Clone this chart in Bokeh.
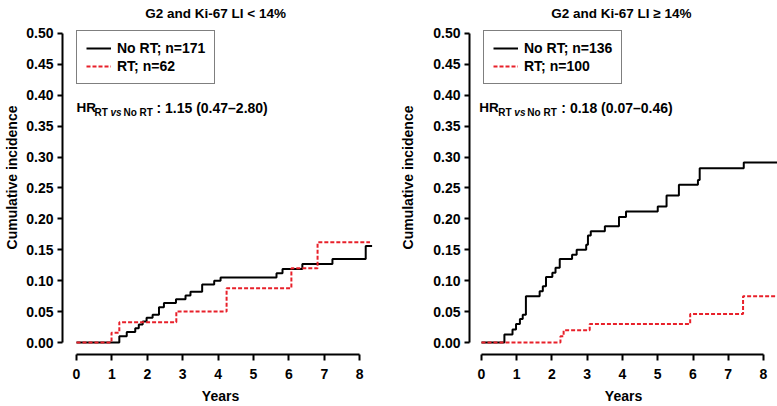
from bokeh.plotting import figure
from bokeh.layouts import row
from bokeh.models import FixedTicker, Legend, LegendItem, NumeralTickFormatter
from bokeh.core.properties import value
from bokeh.embed import file_html
from bokeh.resources import INLINE

# ---------------- data ----------------
x_ticks = [0, 1, 2, 3, 4, 5, 6, 7, 8]
x_tick_labels = ["0", "1", "2", "3", "4", "5", "6", "7", "8"]
y_ticks = [0.0, 0.05, 0.1, 0.15, 0.2, 0.25, 0.3, 0.35, 0.4, 0.45, 0.5]
y_tick_labels = ["0.00", "0.05", "0.10", "0.15", "0.20", "0.25", "0.30", "0.35", "0.40", "0.45", "0.50"]

# Left panel: G2 and Ki-67 LI < 14%
left_title = "G2 and Ki-67 LI < 14%"
left_norts_t = [0, 1.21, 1.42, 1.66, 1.76, 1.87, 1.98, 2.15, 2.33, 2.47, 2.81, 3.08, 3.22, 3.55, 3.89, 4.07, 5.65, 5.82, 6.38, 7.23, 8.17, 8.35]
left_norts_v = [0, 0.010, 0.017, 0.023, 0.029, 0.034, 0.040, 0.045, 0.057, 0.064, 0.070, 0.076, 0.082, 0.094, 0.100, 0.105, 0.112, 0.119, 0.127, 0.135, 0.156, 0.156]
left_rt_t = [0, 0.99, 1.21, 2.82, 4.24, 6.07, 6.81, 8.29]
left_rt_v = [0, 0.016, 0.033, 0.050, 0.088, 0.120, 0.162, 0.162]
left_labels = ["No RT; n=171", "RT; n=62"]
left_hr = ": 1.15 (0.47\u20132.80)"

# Right panel: G2 and Ki-67 LI >= 14%
right_title = "G2 and Ki-67 LI \u2265 14%"
right_norts_t = [0, 0.65, 0.88, 0.98, 1.09, 1.17, 1.26, 1.65, 1.74, 1.83, 2.01, 2.10, 2.22, 2.57, 2.70, 2.97, 3.02, 3.10, 3.50, 3.90, 4.10, 5.00, 5.25, 5.60, 6.14, 6.19, 7.44, 8.6]
right_norts_v = [0, 0.013, 0.021, 0.030, 0.038, 0.045, 0.075, 0.083, 0.091, 0.106, 0.113, 0.121, 0.135, 0.142, 0.150, 0.158, 0.173, 0.180, 0.188, 0.203, 0.212, 0.220, 0.238, 0.255, 0.263, 0.282, 0.291, 0.291]
right_rt_t = [0, 2.24, 2.33, 3.07, 5.92, 7.42, 8.6]
right_rt_v = [0, 0.010, 0.020, 0.030, 0.046, 0.075, 0.075]
right_labels = ["No RT; n=136", "RT; n=100"]
right_hr = ": 0.18 (0.07\u20130.46)"

y_label = "Cumulative incidence"
x_label = "Years"

# ---------------- style ----------------
FONT = "Liberation Sans"
RED = "#e8202a"
FS = "14px"


def panel(width, border_left, border_right, x_range, ylab_standoff, title, title_x,
          t_a, v_a, t_b, v_b, labels, hr_x, hr_rest, sub_off, rest_off):
    p = figure(width=width, height=406, x_range=x_range, y_range=(-0.01935, 0.5532),
               output_backend="svg", toolbar_location=None,
               min_border_left=border_left, min_border_right=border_right,
               min_border_top=0, min_border_bottom=51)
    p.grid.visible = False
    p.outline_line_color = None
    p.background_fill_color = "white"
    p.border_fill_color = "white"

    for ax in (p.xaxis[0], p.yaxis[0]):
        ax.axis_line_width = 2
        ax.axis_line_color = "black"
        ax.major_tick_line_width = 2
        ax.major_tick_line_color = "black"
        ax.minor_tick_line_color = None
        ax.major_tick_in = 0
        ax.major_label_text_font = FONT
        ax.major_label_text_font_style = "bold"
        ax.major_label_text_font_size = FS
        ax.major_label_text_color = "black"
        ax.axis_label_text_font = FONT
        ax.axis_label_text_font_style = "bold"
        ax.axis_label_text_font_size = FS
        ax.axis_label_text_color = "black"

    xa = p.xaxis[0]
    xa.bounds = (x_ticks[0], x_ticks[-1])
    xa.ticker = FixedTicker(ticks=x_ticks)
    xa.major_label_overrides = {t: l for t, l in zip(x_ticks, x_tick_labels)}
    xa.major_tick_out = 6
    xa.major_label_standoff = 8
    xa.axis_label = x_label
    xa.axis_label_standoff = 6

    ya = p.yaxis[0]
    ya.bounds = (y_ticks[0], y_ticks[-1])
    ya.ticker = FixedTicker(ticks=y_ticks)
    ya.formatter = NumeralTickFormatter(format="0.00")
    ya.major_label_overrides = {t: l for t, l in zip(y_ticks, y_tick_labels)}
    ya.major_tick_out = 5
    ya.major_label_standoff = 4
    ya.axis_label = y_label
    ya.axis_label_standoff = ylab_standoff

    ra = p.step(t_a, v_a, mode="after", line_color="black", line_width=2)
    rb = p.step(t_b, v_b, mode="after", line_color=RED, line_width=2, line_dash="4 2")

    legend = Legend(items=[LegendItem(label=labels[0], renderers=[ra]),
                           LegendItem(label=labels[1], renderers=[rb])],
                    location=(14, 270), margin=0, padding=9, spacing=2,
                    label_height=16, glyph_height=16, glyph_width=25, label_standoff=6,
                    border_line_color="black", border_line_width=1.5,
                    background_fill_color="white", background_fill_alpha=1,
                    label_text_font=FONT, label_text_font_style="bold",
                    label_text_font_size=FS, label_text_color="black")
    p.add_layout(legend)

    # panel title
    p.text(x=[title_x], y=[0.5318], text=[title], text_font=value(FONT),
           text_font_style="bold", text_font_size="13.5px", text_align="center",
           text_baseline="alphabetic", text_color="black")

    # hazard ratio annotation
    hr_y = 0.380
    p.text(x=[hr_x], y=[hr_y], text=["HR"], text_font=value(FONT), text_font_style="bold",
           text_font_size="13.5px", text_align="left", text_baseline="alphabetic", text_color="black")
    p.text(x=[hr_x], y=[hr_y], text=["RT"], x_offset=sub_off, y_offset=5, text_font=value(FONT),
           text_font_style="bold", text_font_size="10px", text_align="left",
           text_baseline="alphabetic", text_color="black")
    p.text(x=[hr_x], y=[hr_y], text=["vs"], x_offset=sub_off + 16, y_offset=5, text_font=value(FONT),
           text_font_style="bold italic", text_font_size="10px", text_align="left",
           text_baseline="alphabetic", text_color="black")
    p.text(x=[hr_x], y=[hr_y], text=["No RT"], x_offset=sub_off + 29, y_offset=5, text_font=value(FONT),
           text_font_style="bold", text_font_size="10px", text_align="left",
           text_baseline="alphabetic", text_color="black")
    p.text(x=[hr_x], y=[hr_y], text=[hr_rest], x_offset=rest_off, text_font=value(FONT),
           text_font_style="bold", text_font_size=FS, text_align="left",
           text_baseline="alphabetic", text_color="black")
    return p


p1 = panel(390, 62, 12, (-0.395, 8.531), 3, left_title, 3.93,
           left_norts_t, left_norts_v, left_rt_t, left_rt_v, left_labels, 0.0, left_hr, 18, 80)
p2 = panel(387, 79, 0, (-0.340, 8.397), 14, right_title, 3.97,
           right_norts_t, right_norts_v, right_rt_t, right_rt_v, right_labels, -0.06, right_hr, 19, 82)

layout = row(p1, p2)
open("out.html", "w").write(file_html(layout, INLINE))
